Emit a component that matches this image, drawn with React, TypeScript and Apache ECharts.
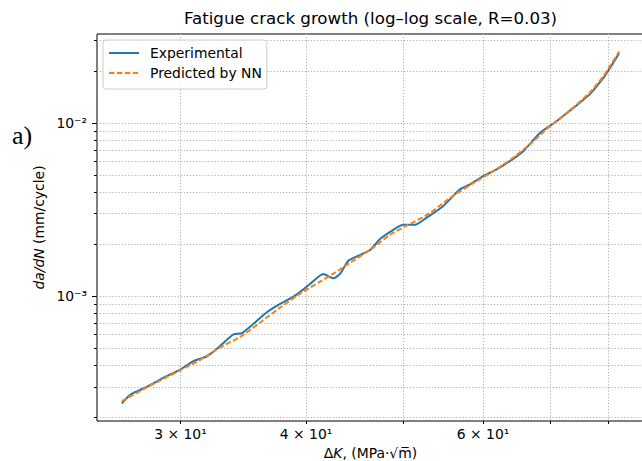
import React, { useEffect, useRef } from "react";
import * as echarts from "echarts";

// ---- data ----
const TITLE = "Fatigue crack growth (log–log scale, R=0.03)";
const SERIES_NAMES = ["Experimental", "Predicted by NN"];
const PANEL_LABEL = "a)";

// Experimental curve: ΔK (MPa·√m) and da/dN (mm/cycle)
const expDK = [
  26.23, 26.63, 26.94, 27.56, 28.1, 28.86, 29.98, 30.91, 31.87, 32.48, 33.37, 33.88,
  34.53, 35.46, 36.56, 37.69, 38.86, 39.62, 40.36, 41.61, 42.58, 43.23, 44.06, 45.08,
  46.31, 47.38, 48.67, 49.98, 51.33, 52.73, 54.77, 56.9, 58.22, 60.02, 61.89, 63.8,
  65.78, 68.34, 71.0, 73.76, 76.63, 78.99, 80.21, 81.94,
];
const expRate = [
  2.408e-4, 2.652e-4, 2.77e-4, 2.936e-4, 3.107e-4, 3.396e-4, 3.776e-4, 4.229e-4, 4.5e-4,
  4.875e-4, 5.616e-4, 6.023e-4, 6.128e-4, 6.94e-4, 8.091e-4, 9.04e-4, 9.96e-4, 1.078e-3,
  1.178e-3, 1.345e-3, 1.269e-3, 1.345e-3, 1.604e-3, 1.713e-3, 1.848e-3, 2.138e-3,
  2.386e-3, 2.583e-3, 2.583e-3, 2.844e-3, 3.321e-3, 4.143e-3, 4.426e-3, 4.94e-3,
  5.398e-3, 6.025e-3, 6.876e-3, 8.76e-3, 1.023e-2, 1.219e-2, 1.468e-2, 1.814e-2,
  2.071e-2, 2.525e-2,
];

// NN prediction
const nnDK = [
  26.23, 27.56, 28.86, 29.98, 31.39, 32.85, 34.4, 36.01, 37.69, 39.46, 41.3, 42.58, 44.23,
  46.31, 48.46, 49.98, 51.33, 53.13, 55.62, 58.22, 60.95, 63.8, 66.8, 69.92, 73.19, 76.63,
  79.23, 81.94,
];
const nnRate = [
  2.482e-4, 2.909e-4, 3.343e-4, 3.741e-4, 4.297e-4, 5.072e-4, 5.826e-4, 7.062e-4, 8.612e-4,
  1.036e-3, 1.215e-3, 1.35e-3, 1.562e-3, 1.855e-3, 2.263e-3, 2.498e-3, 2.705e-3, 3.027e-3,
  3.693e-3, 4.385e-3, 5.141e-3, 6.106e-3, 7.543e-3, 9.572e-3, 1.183e-2, 1.501e-2, 1.905e-2,
  2.583e-2,
];

// ticks
const xTickValues = [30, 40, 50, 60, 70, 80];
const xLabelValues = [30, 40, 60];
const yMajorTicks = [1e-3, 1e-2];
const yMinorTicks = [
  2e-4, 3e-4, 4e-4, 5e-4, 6e-4, 7e-4, 8e-4, 9e-4,
  2e-3, 3e-3, 4e-3, 5e-3, 6e-3, 7e-3, 8e-3, 9e-3,
  2e-2, 3e-2,
];

const X_NAME = "{g|Δ}{i|K}{g|, (MPa·√m̅)}";
const Y_NAME = "{i|da/dN}{g| (mm/cycle)}";

// ---- helpers ----
const lg = (v: number) => Math.log10(v);
const FONT = "DejaVu Sans";
const MPL_BLUE = "#1f77b4";
const MPL_ORANGE = "#ff7f0e";
const GRID_LINE = { color: "#b0b0b0", width: 1, type: [1.2, 1.9] as number[] };
const SUP: Record<string, string> = {
  "0": "⁰", "1": "¹", "2": "²", "3": "³", "4": "⁴", "5": "⁵", "6": "⁶", "7": "⁷", "8": "⁸", "9": "⁹", "-": "⁻",
};
const sup = (n: number) => String(n).split("").map((c) => SUP[c] ?? c).join("");

function paddedExtent(values: number[]): [number, number] {
  const logs = values.map(lg);
  const lo = Math.min(...logs);
  const hi = Math.max(...logs);
  const pad = (hi - lo) * 0.05;
  return [lo - pad, hi + pad];
}

const labelText = { fontFamily: FONT, fontSize: 13.9, color: "#000" };
const nameRich = {
  g: { fontFamily: FONT, fontSize: 13.9, color: "#000" },
  i: { fontFamily: FONT, fontSize: 13.9, color: "#000", fontStyle: "italic" },
};

export default function App() {
  const ref = useRef<HTMLDivElement>(null);

  useEffect(() => {
    if (!ref.current) return;
    const chart = echarts.init(ref.current, undefined, { renderer: "svg" });

    const [xMin, xMax] = paddedExtent([...expDK, ...nnDK]);
    const [yMin, yMax] = paddedExtent([...expRate, ...nnRate]);

    const xFormatter = (v: number) => {
      const n = Math.pow(10, v);
      const e = Math.floor(Math.log10(n) + 1e-9);
      const mant = Math.round(n / Math.pow(10, e));
      return `${mant} × 10${sup(e)}`;
    };
    const yFormatter = (v: number) => `10${sup(Math.round(v))}`;

    const option: any = {
      animation: false,
      backgroundColor: "#ffffff",
      title: {
        text: TITLE,
        left: 370.5,
        textAlign: "center",
        top: 10,
        padding: 0,
        textStyle: { fontFamily: FONT, fontSize: 16.67, fontWeight: "normal", color: "#000" },
      },
      legend: {
        data: SERIES_NAMES,
        orient: "vertical",
        left: 103,
        top: 40,
        itemWidth: 30,
        itemHeight: 14,
        itemGap: 6,
        padding: [6, 5, 9, 5],
        backgroundColor: "rgba(255,255,255,0.8)",
        borderColor: "#cccccc",
        borderWidth: 1,
        borderRadius: 3,
        itemStyle: { opacity: 0 },
        textStyle: { fontFamily: FONT, fontSize: 13.9, color: "#000", padding: [0, 0, 0, 6] },
      },
      grid: {
        left: 97,
        top: 34,
        width: 547,
        height: 387,
        outerBoundsMode: "none",
        containLabel: false,
        show: true,
        borderColor: "#000",
        borderWidth: 1,
        backgroundColor: "transparent",
      },
      xAxis: {
        type: "value",
        min: xMin,
        max: xMax,
        name: X_NAME,
        nameLocation: "middle",
        nameGap: 25,
        nameTextStyle: { rich: nameRich },
        axisLine: { show: false },
        axisTick: { show: true, inside: false, length: 3, customValues: xTickValues.map(lg), lineStyle: { color: "#000", width: 1 } },
        axisLabel: { show: true, customValues: xLabelValues.map(lg), margin: 6, formatter: xFormatter, ...labelText },
        splitLine: { show: true, lineStyle: GRID_LINE },
      },
      yAxis: [
        {
          type: "value",
          min: yMin,
          max: yMax,
          position: "left",
          name: Y_NAME,
          nameLocation: "middle",
          nameGap: 48,
          nameTextStyle: { rich: nameRich },
          axisLine: { show: false },
          axisTick: { show: true, length: 5, customValues: yMajorTicks.map(lg), lineStyle: { color: "#000", width: 1 } },
          axisLabel: { show: true, customValues: yMajorTicks.map(lg), margin: 10, formatter: yFormatter, ...labelText },
          splitLine: { show: true, lineStyle: GRID_LINE },
        },
        {
          type: "value",
          min: yMin,
          max: yMax,
          position: "left",
          offset: 0,
          axisLine: { show: false },
          axisTick: { show: true, length: 3, customValues: yMinorTicks.map(lg), lineStyle: { color: "#000", width: 1 } },
          axisLabel: { show: false },
          splitLine: { show: true, lineStyle: GRID_LINE },
        },
      ],
      graphic: [
        {
          type: "text",
          left: 12,
          top: 122,
          style: { text: PANEL_LABEL, font: '26px "Liberation Serif"', fill: "#000" },
        },
      ],
      series: [
        {
          name: SERIES_NAMES[0],
          type: "line",
          data: expDK.map((x, i) => [lg(x), lg(expRate[i])]),
          symbol: "none",
          showSymbol: false,
          smooth: 0.2,
          lineStyle: { color: MPL_BLUE, width: 2 },
          itemStyle: { color: MPL_BLUE },
          z: 3,
        },
        {
          name: SERIES_NAMES[1],
          type: "line",
          data: nnDK.map((x, i) => [lg(x), lg(nnRate[i])]),
          symbol: "none",
          showSymbol: false,
          smooth: 0.25,
          lineStyle: { color: MPL_ORANGE, width: 2, type: [5.5, 2.4] },
          itemStyle: { color: MPL_ORANGE },
          z: 4,
        },
      ],
    };

    chart.setOption(option);
    return () => chart.dispose();
  }, []);

  return (
    <div
      ref={ref}
      style={{ position: "fixed", left: 0, top: 0, width: 642, height: 461, background: "#fff" }}
    />
  );
}
